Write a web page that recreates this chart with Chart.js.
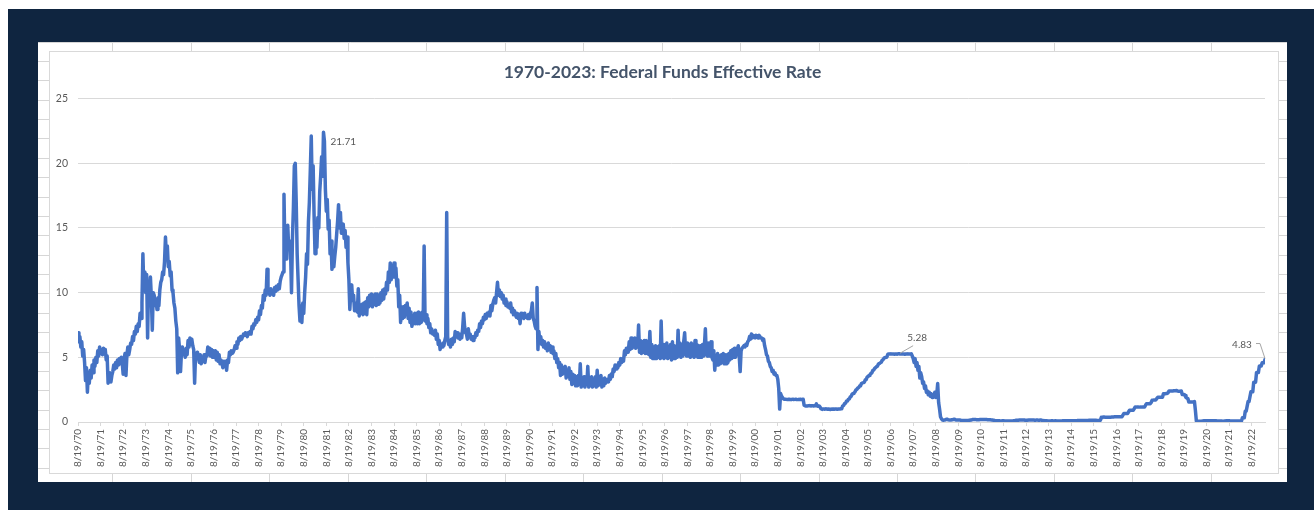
<!DOCTYPE html>
<html>
<head>
<meta charset="utf-8">
<script src="https://cdn.jsdelivr.net/npm/chart.js@4"></script>
<style>
  html, body { margin: 0; padding: 0; background: #fff; }
  body { width: 1314px; height: 510px; position: relative; overflow: hidden; }
  #frame { position: absolute; left: 8px; top: 9px; right: 0; bottom: 0; background: #0f2540; }
  #chart { position: absolute; left: 38px; top: 42px; }
</style>
</head>
<body>
<div id="frame"></div>
<canvas id="chart" width="1249" height="440"></canvas>
<script>
// two samples per month, first one on 8/19/70
const firstSample = 1970.63;
const samplesPerYear = 24;

const rates1970s = [
  6.9, 6.2, 6.6, 5.8, 6.2, 5.1, 5.6, 4.6, 3.2, // 1970 (from Aug)
  4.2, 2.3, 3.8, 3.0, 4.0, 3.4, 4.4, 3.8, 4.8, 4.3, 5.0, 4.6, 5.5, 5.1, 5.8, 5.3, 5.6, 5.2, 5.7, 5.3, 5.6, 4.8, 5.1, 3.0,
  3.3, 3.8, 3.1, 3.6, 3.9, 4.4, 4.1, 4.6, 4.2, 4.8, 4.4, 4.9, 4.5, 5.0, 4.6, 3.7, 4.9, 5.3, 3.6, 5.2, 5.8, 5.2, 5.6, 6.1,
  6.0, 6.6, 6.3, 7.0, 6.8, 7.4, 7.0, 7.6, 7.4, 8.4, 8.0, 9.2, 13.0, 10.2, 11.6, 10.0, 11.4, 6.5, 10.8, 10.0, 11.2, 9.6, 7.1, 10.0,
  9.8, 9.0, 9.4, 8.7, 9.6, 9.0, 10.2, 10.8, 11.0, 11.6, 11.4, 12.4, 14.3, 12.8, 13.6, 12.0, 12.4, 11.3, 11.6, 10.2, 10.0, 9.2, 8.8, 7.8,
  7.2, 3.8, 6.5, 5.6, 3.9, 5.4, 5.8, 5.2, 5.5, 5.0, 5.7, 5.2, 6.3, 5.8, 6.5, 6.0, 6.4, 5.9, 5.6, 3.0, 5.3, 5.0, 5.4, 5.0,
  4.6, 5.2, 4.5, 5.0, 4.7, 5.2, 4.6, 5.1, 5.1, 5.8, 5.2, 5.7, 5.1, 5.6, 5.0, 5.5, 5.0, 5.5, 4.8, 5.4, 4.7, 5.2, 4.5, 4.8,
  4.6, 4.2, 4.7, 4.5, 4.7, 4.0, 4.8, 4.6, 5.4, 5.2, 5.5, 5.3, 5.4, 5.6, 5.9, 5.7, 6.2, 6.0, 6.5, 6.3, 6.6, 6.4, 6.6, 6.8,
  6.7, 6.9, 6.8, 6.6, 6.9, 6.8, 7.0, 6.8, 7.4, 7.2, 7.6, 7.5, 7.9, 7.7, 8.1, 7.9, 8.6, 8.3, 9.0, 8.8, 9.8, 9.4, 10.2, 9.8,
  11.8, 10.0, 10.2, 9.8, 10.3, 9.9, 10.1, 9.8, 10.4, 10.1, 10.5, 10.2, 10.6, 10.3, 10.9, 11.2, 11.4, 11.6, 17.6, 13.2, 14.8, 12.6, 15.2, 13.4
];

const rates1980s = [
  14.0, 13.2, 10.0, 14.2, 16.5, 19.8, 20.0, 17.0, 13.0, 11.0, 9.0, 7.8, 8.6, 7.7, 9.2, 8.4, 10.0, 11.2, 13.0, 12.2, 15.5, 17.0, 19.5, 22.1,
  18.0, 19.8, 16.0, 13.0, 14.5, 13.5, 15.8, 15.0, 17.8, 19.0, 20.5, 19.0, 22.4, 21.71, 18.0, 16.3, 17.2, 14.9, 15.6, 13.0, 14.0, 11.8, 12.8, 12.0,
  12.8, 13.5, 14.5, 15.5, 16.8, 15.0, 16.2, 14.6, 15.0, 15.3, 14.2, 14.8, 13.5, 14.3, 12.3, 11.0, 8.7, 10.0, 10.6, 9.4, 9.8, 8.6, 9.2, 8.6,
  8.5, 10.3, 8.2, 9.0, 8.4, 9.1, 8.3, 9.2, 8.4, 9.3, 8.3, 9.6, 8.9, 9.8, 9.0, 9.9, 8.9, 9.8, 9.1, 9.9, 9.0, 9.9, 9.1, 9.8,
  9.2, 10.0, 9.4, 10.2, 9.5, 10.3, 9.9, 10.8, 10.2, 11.6, 10.8, 12.3, 11.0, 12.1, 11.2, 12.3, 11.2, 11.9, 10.5, 11.0, 8.9, 9.8, 7.7, 8.9,
  8.0, 8.9, 8.1, 9.0, 8.4, 9.2, 8.0, 8.8, 7.7, 8.5, 7.4, 8.2, 7.6, 8.4, 7.6, 8.4, 7.6, 8.5, 7.6, 8.4, 7.7, 8.5, 7.9, 13.6,
  7.8, 8.3, 7.6, 8.0, 7.3, 7.6, 6.9, 7.2, 6.8, 7.0, 6.7, 7.1, 6.4, 6.8, 6.0, 6.3, 5.6, 6.0, 5.8, 6.1, 5.9, 6.3, 6.6, 16.2,
  6.6, 6.0, 6.3, 5.8, 6.4, 6.0, 6.5, 6.2, 7.0, 6.6, 6.9, 6.5, 6.7, 6.4, 6.8, 6.5, 7.3, 8.4, 7.4, 6.9, 6.8, 6.4, 7.2, 6.6,
  6.8, 6.4, 6.6, 6.3, 6.6, 6.5, 6.9, 6.7, 7.1, 7.0, 7.6, 7.3, 7.8, 7.6, 8.1, 7.9, 8.3, 8.0, 8.4, 8.2, 8.5, 8.2, 9.0, 8.6,
  9.1, 9.4, 9.6, 9.2, 10.0, 10.8, 9.8, 10.2, 9.7, 10.0, 9.5, 9.8, 9.2, 9.5, 9.0, 9.3, 8.9, 9.1, 8.8, 9.2, 8.5, 8.8, 8.3, 8.6
];

const rates1990s = [
  8.3, 8.1, 8.4, 8.0, 8.3, 7.6, 8.4, 8.1, 8.2, 8.0, 8.4, 8.1, 8.2, 8.0, 8.3, 8.0, 8.4, 8.6, 9.2, 8.0, 7.8, 7.4, 7.2, 10.4,
  5.6, 7.0, 6.2, 6.6, 6.0, 6.3, 5.8, 6.2, 5.7, 6.0, 5.5, 6.1, 5.6, 5.9, 5.4, 5.8, 5.3, 5.5, 4.9, 5.3, 4.6, 4.9, 4.2, 4.6,
  3.6, 4.4, 3.7, 4.2, 3.8, 4.3, 3.4, 4.0, 3.6, 4.2, 3.3, 3.9, 2.9, 3.7, 3.0, 3.6, 2.8, 3.5, 2.8, 3.6, 2.9, 4.5, 2.7, 3.4,
  2.8, 3.5, 2.7, 3.4, 2.9, 4.3, 2.7, 3.4, 2.8, 3.5, 2.7, 3.3, 2.8, 3.5, 2.7, 4.0, 2.8, 3.4, 2.9, 3.6, 2.7, 3.3, 2.8, 3.4,
  3.0, 3.2, 3.3, 3.1, 3.6, 3.3, 3.7, 3.5, 4.1, 3.9, 4.4, 4.1, 4.4, 4.2, 4.6, 4.4, 4.9, 4.6, 4.9, 4.7, 5.5, 5.2, 5.7, 5.4,
  5.4, 6.2, 5.6, 6.5, 5.7, 6.4, 5.8, 6.5, 5.7, 6.4, 5.8, 7.5, 5.4, 6.3, 5.3, 6.2, 5.4, 6.3, 5.3, 6.3, 5.3, 6.2, 5.2, 7.0,
  5.0, 6.0, 4.9, 5.8, 4.9, 5.9, 4.9, 5.8, 5.0, 5.9, 4.9, 7.8, 5.0, 6.0, 4.9, 5.8, 5.0, 6.1, 4.9, 5.8, 5.0, 6.0, 4.8, 6.2,
  4.9, 5.9, 4.9, 5.8, 5.0, 7.1, 5.1, 6.1, 5.0, 6.0, 5.1, 6.2, 6.9, 5.3, 5.1, 6.1, 5.1, 6.0, 5.0, 6.1, 5.1, 6.0, 5.0, 6.3,
  5.1, 6.0, 5.0, 5.9, 5.0, 5.9, 5.0, 6.0, 5.1, 5.9, 7.2, 5.2, 5.1, 6.1, 5.1, 6.0, 6.2, 5.0, 4.8, 5.5, 4.0, 5.1, 4.4, 5.3,
  4.4, 5.1, 4.5, 5.2, 4.6, 5.3, 4.5, 5.2, 4.5, 5.2, 4.6, 5.3, 4.8, 5.5, 4.9, 5.6, 5.0, 5.7, 5.0, 5.7, 5.2, 5.9, 5.1, 3.9
];

const rates2000s = [
  5.5, 5.7, 5.7, 5.9, 5.8, 6.0, 5.9, 6.2, 6.3, 6.6, 6.4, 6.8, 6.5, 6.7, 6.6, 6.5, 6.7, 6.6, 6.5, 6.7, 6.6, 6.5, 6.5, 6.3,
  6.4, 5.9, 5.6, 5.2, 5.1, 4.7, 4.6, 4.3, 4.2, 3.9, 4.0, 3.7, 3.8, 3.6, 3.6, 3.3, 2.6, 1.0, 2.2, 2.0, 1.9, 1.8, 1.75, 1.75,
  1.75, 1.74, 1.73, 1.76, 1.74, 1.73, 1.75, 1.76, 1.74, 1.75, 1.76, 1.74, 1.73, 1.75, 1.74, 1.76, 1.74, 1.75, 1.75, 1.30, 1.26, 1.24, 1.23, 1.25,
  1.25, 1.27, 1.24, 1.26, 1.25, 1.24, 1.26, 1.25, 1.40, 1.24, 1.22, 1.24, 1.15, 1.02, 0.98, 1.01, 1.00, 0.99, 1.02, 1.00, 0.98, 1.01, 0.99, 0.96,
  1.00, 0.98, 1.01, 0.99, 1.00, 1.01, 0.99, 1.00, 1.01, 1.00, 1.03, 1.02, 1.25, 1.27, 1.42, 1.45, 1.60, 1.62, 1.75, 1.78, 1.93, 1.98, 2.15, 2.20,
  2.25, 2.32, 2.48, 2.52, 2.62, 2.66, 2.78, 2.80, 2.98, 3.02, 3.04, 3.08, 3.25, 3.28, 3.48, 3.52, 3.60, 3.65, 3.76, 3.80, 3.98, 4.02, 4.14, 4.20,
  4.28, 4.32, 4.48, 4.52, 4.58, 4.62, 4.78, 4.82, 4.94, 4.98, 4.99, 5.02, 5.24, 5.26, 5.25, 5.27, 5.25, 5.26, 5.25, 5.24, 5.26, 5.25, 5.24, 5.27,
  5.28, 5.25, 5.26, 5.25, 5.27, 5.25, 5.24, 5.26, 5.25, 5.27, 5.25, 5.26, 5.25, 5.27, 5.1, 4.9, 4.6, 4.9, 4.3, 4.6, 4.0, 4.3, 3.4, 3.8,
  3.5, 3.0, 3.1, 2.6, 2.8, 2.3, 2.4, 2.1, 2.3, 2.0, 2.2, 1.9, 2.1, 2.0, 2.3, 1.9, 2.1, 2.97, 1.5, 1.0, 0.4, 0.25, 0.15, 0.14,
  0.15, 0.15, 0.22, 0.22, 0.18, 0.18, 0.15, 0.15, 0.18, 0.18, 0.21, 0.21, 0.16, 0.16, 0.16, 0.16, 0.15, 0.15, 0.12, 0.12, 0.12, 0.12, 0.12, 0.12
];

const rates2010s = [
  0.11, 0.11, 0.13, 0.13, 0.16, 0.16, 0.20, 0.20, 0.20, 0.20, 0.18, 0.18, 0.18, 0.18, 0.19, 0.19, 0.19, 0.19, 0.19, 0.19, 0.19, 0.19, 0.18, 0.18,
  0.17, 0.17, 0.16, 0.16, 0.14, 0.14, 0.10, 0.10, 0.09, 0.09, 0.09, 0.09, 0.07, 0.07, 0.10, 0.10, 0.08, 0.08, 0.07, 0.07, 0.08, 0.08, 0.07, 0.07,
  0.08, 0.08, 0.10, 0.10, 0.13, 0.13, 0.14, 0.14, 0.16, 0.16, 0.16, 0.16, 0.16, 0.16, 0.13, 0.13, 0.14, 0.14, 0.16, 0.16, 0.16, 0.16, 0.16, 0.16,
  0.14, 0.14, 0.15, 0.15, 0.14, 0.14, 0.15, 0.15, 0.11, 0.11, 0.09, 0.09, 0.09, 0.09, 0.08, 0.08, 0.08, 0.08, 0.09, 0.09, 0.08, 0.08, 0.09, 0.09,
  0.07, 0.07, 0.07, 0.07, 0.08, 0.08, 0.09, 0.09, 0.09, 0.09, 0.10, 0.10, 0.09, 0.09, 0.09, 0.09, 0.09, 0.09, 0.09, 0.09, 0.09, 0.09, 0.12, 0.12,
  0.11, 0.11, 0.11, 0.11, 0.11, 0.11, 0.12, 0.12, 0.12, 0.12, 0.13, 0.13, 0.13, 0.13, 0.14, 0.14, 0.14, 0.14, 0.12, 0.12, 0.12, 0.12, 0.13, 0.36,
  0.34, 0.38, 0.38, 0.37, 0.36, 0.37, 0.37, 0.37, 0.37, 0.37, 0.38, 0.38, 0.39, 0.40, 0.40, 0.40, 0.40, 0.40, 0.40, 0.41, 0.41, 0.41, 0.41, 0.66,
  0.65, 0.66, 0.66, 0.66, 0.79, 0.91, 0.90, 0.91, 0.91, 0.91, 1.04, 1.16, 1.15, 1.16, 1.16, 1.16, 1.15, 1.16, 1.15, 1.16, 1.16, 1.16, 1.30, 1.42,
  1.41, 1.42, 1.42, 1.42, 1.51, 1.68, 1.69, 1.70, 1.70, 1.71, 1.82, 1.91, 1.91, 1.91, 1.91, 1.91, 1.92, 2.18, 2.18, 2.19, 2.20, 2.20, 2.27, 2.40,
  2.40, 2.40, 2.40, 2.40, 2.41, 2.41, 2.42, 2.44, 2.39, 2.38, 2.38, 2.37, 2.40, 2.13, 2.12, 2.13, 2.04, 1.90, 1.83, 1.82, 1.55, 1.55, 1.55, 1.55
];

const rates2020s = [
  1.55, 1.55, 1.58, 0.90, 0.08, 0.05, 0.05, 0.05, 0.05, 0.05, 0.08, 0.08, 0.09, 0.09, 0.10, 0.10, 0.09, 0.09, 0.09, 0.09, 0.09, 0.09, 0.09, 0.09,
  0.09, 0.09, 0.08, 0.08, 0.07, 0.07, 0.07, 0.07, 0.06, 0.06, 0.08, 0.08, 0.10, 0.10, 0.09, 0.09, 0.08, 0.08, 0.08, 0.08, 0.08, 0.08, 0.08, 0.08,
  0.08, 0.08, 0.08, 0.08, 0.08, 0.33, 0.33, 0.33, 0.83, 0.83, 1.21, 1.58, 1.58, 1.58, 2.33, 2.33, 2.33, 3.08, 3.08, 3.08, 3.83, 3.83, 3.83, 4.33,
  4.33, 4.33, 4.58, 4.58, 4.58, 4.83
];

const tickLabels = [
  '8/19/70', '8/19/71', '8/19/72', '8/19/73', '8/19/74', '8/19/75', '8/19/76', '8/19/77', '8/19/78', '8/19/79',
  '8/19/80', '8/19/81', '8/19/82', '8/19/83', '8/19/84', '8/19/85', '8/19/86', '8/19/87', '8/19/88', '8/19/89',
  '8/19/90', '8/19/91', '8/19/92', '8/19/93', '8/19/94', '8/19/95', '8/19/96', '8/19/97', '8/19/98', '8/19/99',
  '8/19/00', '8/19/01', '8/19/02', '8/19/03', '8/19/04', '8/19/05', '8/19/06', '8/19/07', '8/19/08', '8/19/09',
  '8/19/10', '8/19/11', '8/19/12', '8/19/13', '8/19/14', '8/19/15', '8/19/16', '8/19/17', '8/19/18', '8/19/19',
  '8/19/20', '8/19/21', '8/19/22'
];

// points that carry a data label
const pointLabels = [
  { year: 1981, half: 13, text: '21.71' },
  { year: 2007, half: 0, text: '5.28' },
  { year: 2023, half: 5, text: '4.83' }
];

const rates = [].concat(rates1970s, rates1980s, rates1990s, rates2000s, rates2010s, rates2020s);
const points = rates.map((r, i) => ({ x: firstSample + i / samplesPerYear, y: r }));
const tickValues = tickLabels.map((_, i) => firstSample + i);
const lastX = points[points.length - 1].x;

function sampleIndex(year, half) {
  // 1970 only has 9 samples (Aug 19 onwards)
  return year === 1970 ? half : 9 + (year - 1971) * samplesPerYear + half;
}

const sheetBackground = {
  id: 'sheetBackground',
  beforeDraw(chart) {
    const ctx = chart.ctx;
    const w = chart.width, h = chart.height;
    ctx.save();
    ctx.fillStyle = '#fff';
    ctx.fillRect(0, 0, w, h);
    // spreadsheet cells behind the chart
    ctx.strokeStyle = '#d6d6d6';
    ctx.lineWidth = 1;
    ctx.beginPath();
    for (let x = 74.3; x < w; x += 78.47) {
      ctx.moveTo(Math.round(x) + 0.5, 0);
      ctx.lineTo(Math.round(x) + 0.5, h);
    }
    for (let y = 19; y < h; y += 19.37) {
      ctx.moveTo(0, Math.round(y) + 0.5);
      ctx.lineTo(w, Math.round(y) + 0.5);
    }
    ctx.moveTo(0, 0.5);
    ctx.lineTo(w, 0.5);
    ctx.stroke();
    // chart box
    ctx.fillStyle = '#fff';
    ctx.fillRect(11, 9, 1229, 422);
    ctx.strokeStyle = '#d9d9d9';
    ctx.strokeRect(11.5, 9.5, 1229, 422);
    ctx.restore();
  }
};

const dataLabels = {
  id: 'dataLabels',
  afterDatasetsDraw(chart) {
    const ctx = chart.ctx;
    const meta = chart.getDatasetMeta(0);
    ctx.save();
    ctx.font = '10px Lato';
    ctx.fillStyle = '#595959';
    ctx.strokeStyle = '#a6a6a6';
    ctx.lineWidth = 1;
    ctx.textBaseline = 'middle';
    pointLabels.forEach(p => {
      const el = meta.data[sampleIndex(p.year, p.half)];
      const x = el.x, y = el.y;
      if (p.text === '21.71') {
        ctx.textAlign = 'left';
        ctx.fillText(p.text, x + 6, y + 0.5);
      } else if (p.text === '5.28') {
        ctx.beginPath();
        ctx.moveTo(x + 1, y - 0.5);
        ctx.lineTo(x + 14, y - 8);
        ctx.stroke();
        ctx.textAlign = 'center';
        ctx.fillText(p.text, x + 18, y - 15.5);
      } else {
        ctx.beginPath();
        ctx.moveTo(x - 9, y - 16);
        ctx.lineTo(x - 5, y - 16);
        ctx.lineTo(x, y - 1);
        ctx.stroke();
        ctx.textAlign = 'center';
        ctx.fillText(p.text, x - 23, y - 15);
      }
    });
    ctx.restore();
  }
};

new Chart(document.getElementById('chart'), {
  type: 'line',
  data: {
    datasets: [{
      label: 'Federal Funds Effective Rate',
      data: points,
      borderColor: '#4472C4',
      backgroundColor: '#4472C4',
      borderWidth: 3.5,
      borderJoinStyle: 'round',
      borderCapStyle: 'round',
      pointRadius: 0,
      tension: 0,
      fill: false
    }]
  },
  options: {
    responsive: false,
    animation: false,
    devicePixelRatio: 1,
    events: [],
    layout: {
      padding: 0
    },
    plugins: {
      legend: { display: false },
      tooltip: { enabled: false },
      title: {
        display: true,
        text: '1970-2023: Federal Funds Effective Rate',
        color: '#44546a',
        font: { family: 'Lato', size: 17.5, weight: 'bold' },
        padding: { top: 20, bottom: 15.6 }
      }
    },
    scales: {
      x: {
        type: 'linear',
        min: firstSample,
        max: lastX,
        afterBuildTicks: axis => {
          axis.ticks = tickValues.map(v => ({ value: v }));
        },
        afterFit: axis => { axis.height = 60; },
        ticks: {
          autoSkip: false,
          maxRotation: 90,
          minRotation: 90,
          padding: 3,
          color: '#595959',
          font: { family: 'Lato', size: 10 },
          callback: (value, index) => tickLabels[index]
        },
        grid: {
          drawOnChartArea: false,
          drawTicks: true,
          tickLength: 4,
          color: '#d9d9d9'
        },
        border: { display: true, color: '#d9d9d9' }
      },
      y: {
        min: 0,
        max: 25,
        afterFit: axis => { axis.width = 40; },
        ticks: {
          stepSize: 5,
          padding: 10,
          color: '#595959',
          font: { family: 'Lato', size: 10.5 }
        },
        grid: { color: '#d9d9d9', drawTicks: false },
        border: { display: false }
      },
      // empty right-hand strip so the plot ends where the reference does
      yRight: {
        position: 'right',
        min: 0,
        max: 25,
        afterFit: axis => { axis.width = 22; },
        ticks: { display: false },
        grid: { display: false },
        border: { display: false }
      }
    }
  },
  plugins: [sheetBackground, dataLabels]
});
</script>
</body>
</html>
